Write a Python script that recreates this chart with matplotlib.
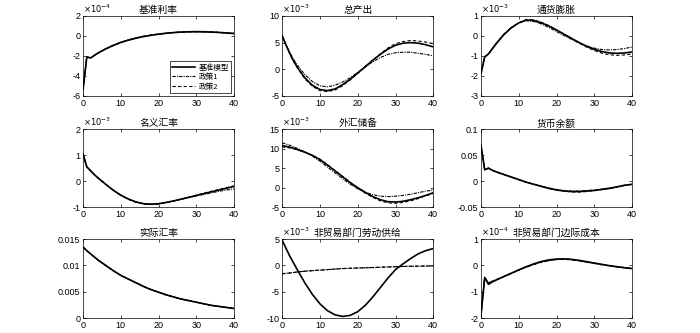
import matplotlib
matplotlib.use("Agg")
import matplotlib.pyplot as plt
from matplotlib.ticker import FuncFormatter

plt.rcParams['font.family'] = ['Liberation Sans', 'Noto Sans CJK SC', 'DejaVu Sans']

periods = [0, 1, 2, 3, 4, 6, 8, 10, 12, 14, 16, 18, 20, 22, 24, 26, 28, 30, 32, 34, 36, 38, 40]
series_names = ['基准模型', '政策1', '政策2']

titles = ['基准利率', '总产出', '通货膨胀', '名义汇率', '外汇储备', '货币余额',
          '实际汇率', '非贸易部门劳动供给', '非贸易部门边际成本']
exponents = [-4, -3, -3, -3, -3, None, None, -3, -4]
yticks = [[-6, -4, -2, 0, 2], [-5, 0, 5, 10], [-3, -2, -1, 0, 1], [-1, 0, 1, 2],
          [-5, 0, 5, 10, 15], [-0.05, 0, 0.05, 0.1], [0, 0.005, 0.01, 0.015],
          [-10, -5, 0, 5], [-2, -1, 0, 1]]
xticks = [0, 10, 20, 30, 40]

# values in displayed units (times 10^exponent where given)
rate_base = [-5.4, -2.1, -2.2, -1.95, -1.7, -1.3, -0.95, -0.65, -0.42, -0.22, -0.06, 0.07, 0.18, 0.27, 0.34, 0.39, 0.42, 0.43, 0.42, 0.39, 0.35, 0.3, 0.24]
rate_p1 = [-5.4, -2.1, -2.2, -1.93, -1.68, -1.27, -0.92, -0.62, -0.38, -0.18, -0.02, 0.1, 0.2, 0.28, 0.34, 0.38, 0.4, 0.4, 0.39, 0.37, 0.34, 0.3, 0.26]
rate_p2 = [-5.4, -2.1, -2.2, -1.96, -1.71, -1.31, -0.96, -0.66, -0.43, -0.23, -0.07, 0.07, 0.18, 0.27, 0.35, 0.4, 0.44, 0.45, 0.44, 0.41, 0.37, 0.31, 0.25]

out_base = [6.3, 4.6, 3.0, 1.6, 0.4, -1.6, -3.0, -3.8, -4.0, -3.7, -2.9, -1.9, -0.7, 0.5, 1.7, 2.8, 3.8, 4.5, 4.9, 5.0, 4.9, 4.6, 4.2]
out_p1 = [6.3, 4.7, 3.2, 1.9, 0.8, -1.0, -2.3, -3.1, -3.3, -3.0, -2.4, -1.6, -0.6, 0.4, 1.4, 2.2, 2.8, 3.1, 3.2, 3.2, 3.0, 2.8, 2.5]
out_p2 = [6.3, 4.6, 3.0, 1.5, 0.3, -1.8, -3.2, -4.0, -4.2, -3.9, -3.1, -2.0, -0.8, 0.5, 1.7, 2.9, 4.0, 4.8, 5.2, 5.4, 5.3, 5.1, 4.8]

inf_base = [-1.9, -1.05, -0.9, -0.65, -0.4, 0.05, 0.4, 0.65, 0.8, 0.78, 0.66, 0.5, 0.3, 0.09, -0.12, -0.33, -0.52, -0.67, -0.78, -0.85, -0.87, -0.85, -0.8]
inf_p1 = [-1.9, -1.05, -0.9, -0.63, -0.37, 0.08, 0.43, 0.66, 0.76, 0.72, 0.6, 0.42, 0.22, 0.02, -0.17, -0.35, -0.5, -0.61, -0.68, -0.7, -0.68, -0.63, -0.55]
inf_p2 = [-1.9, -1.05, -0.9, -0.65, -0.4, 0.05, 0.4, 0.66, 0.82, 0.8, 0.68, 0.51, 0.3, 0.08, -0.14, -0.36, -0.56, -0.73, -0.86, -0.94, -0.97, -0.95, -0.9]

ner_base = [1.05, 0.55, 0.4, 0.25, 0.12, -0.12, -0.35, -0.54, -0.69, -0.8, -0.87, -0.89, -0.87, -0.82, -0.76, -0.69, -0.62, -0.55, -0.48, -0.41, -0.34, -0.27, -0.2]
ner_p1 = [1.05, 0.55, 0.4, 0.25, 0.12, -0.12, -0.35, -0.54, -0.69, -0.8, -0.86, -0.88, -0.86, -0.82, -0.76, -0.7, -0.63, -0.57, -0.51, -0.45, -0.39, -0.34, -0.3]
ner_p2 = [1.05, 0.55, 0.4, 0.25, 0.12, -0.12, -0.35, -0.55, -0.7, -0.81, -0.88, -0.9, -0.88, -0.83, -0.77, -0.69, -0.62, -0.54, -0.46, -0.39, -0.32, -0.25, -0.18]

res_base = [10.8, 10.6, 10.4, 10.1, 9.8, 9.1, 8.3, 7.2, 5.8, 4.3, 2.8, 1.3, 0.0, -1.2, -2.3, -3.1, -3.6, -3.7, -3.5, -3.1, -2.6, -2.0, -1.3]
res_p1 = [11.5, 11.2, 10.9, 10.5, 10.1, 9.2, 8.1, 6.8, 5.3, 3.8, 2.3, 0.9, -0.3, -1.2, -1.8, -2.2, -2.3, -2.2, -2.0, -1.7, -1.3, -0.9, -0.6]
res_p2 = [10.5, 10.3, 10.2, 10.0, 9.7, 9.1, 8.3, 7.3, 5.9, 4.4, 2.9, 1.3, -0.1, -1.4, -2.5, -3.4, -3.9, -4.0, -3.8, -3.4, -2.8, -2.1, -1.5]

mon_base = [0.07, 0.022, 0.025, 0.021, 0.018, 0.013, 0.008, 0.003, -0.002, -0.006, -0.010, -0.014, -0.017, -0.019, -0.020, -0.020, -0.019, -0.018, -0.016, -0.014, -0.011, -0.008, -0.006]
mon_p1 = [0.07, 0.022, 0.025, 0.021, 0.018, 0.013, 0.008, 0.003, -0.002, -0.006, -0.010, -0.013, -0.016, -0.018, -0.019, -0.019, -0.018, -0.017, -0.015, -0.013, -0.011, -0.008, -0.006]
mon_p2 = [0.07, 0.022, 0.025, 0.021, 0.018, 0.013, 0.008, 0.003, -0.002, -0.006, -0.010, -0.014, -0.017, -0.019, -0.021, -0.021, -0.020, -0.018, -0.016, -0.014, -0.011, -0.008, -0.006]

rer_base = [0.0135, 0.0128, 0.0122, 0.0116, 0.0110, 0.0100, 0.0090, 0.0081, 0.0074, 0.0067, 0.0060, 0.0054, 0.0049, 0.0044, 0.0040, 0.0036, 0.0033, 0.0030, 0.0027, 0.0024, 0.0022, 0.0020, 0.0018]
rer_p1 = rer_base
rer_p2 = rer_base

lab_base = [4.8, 3.3, 1.8, 0.5, -0.8, -3.3, -5.5, -7.3, -8.6, -9.4, -9.7, -9.5, -8.8, -7.6, -6.0, -4.2, -2.4, -0.8, 0.3, 1.3, 2.2, 2.8, 3.2]
lab_p1 = [-1.6, -1.5, -1.45, -1.35, -1.25, -1.1, -1.0, -0.9, -0.8, -0.7, -0.6, -0.55, -0.5, -0.45, -0.4, -0.35, -0.3, -0.25, -0.2, -0.17, -0.15, -0.12, -0.1]
lab_p2 = [-1.6, -1.5, -1.45, -1.35, -1.25, -1.1, -1.0, -0.9, -0.8, -0.7, -0.6, -0.55, -0.5, -0.45, -0.4, -0.35, -0.3, -0.25, -0.2, -0.17, -0.15, -0.12, -0.1]

mc_base = [-1.93, -0.46, -0.72, -0.63, -0.56, -0.43, -0.3, -0.17, -0.05, 0.06, 0.15, 0.21, 0.24, 0.25, 0.23, 0.19, 0.14, 0.09, 0.04, -0.01, -0.05, -0.09, -0.12]
mc_p1 = [-1.93, -0.46, -0.65, -0.6, -0.54, -0.42, -0.3, -0.18, -0.07, 0.03, 0.12, 0.18, 0.22, 0.23, 0.21, 0.17, 0.12, 0.07, 0.02, -0.02, -0.06, -0.09, -0.11]
mc_p2 = [-1.93, -0.46, -0.68, -0.61, -0.55, -0.43, -0.31, -0.18, -0.06, 0.04, 0.13, 0.19, 0.23, 0.24, 0.22, 0.18, 0.13, 0.08, 0.03, -0.01, -0.05, -0.08, -0.11]

panels = [
    (rate_base, rate_p1, rate_p2), (out_base, out_p1, out_p2), (inf_base, inf_p1, inf_p2),
    (ner_base, ner_p1, ner_p2), (res_base, res_p1, res_p2), (mon_base, mon_p1, mon_p2),
    (rer_base, rer_p1, rer_p2), (lab_base, lab_p1, lab_p2), (mc_base, mc_p1, mc_p2),
]

styles = [dict(color='black', lw=1.2, ls='-'),
          dict(color='black', lw=0.8, ls=(0, (3, 1, 1, 1))),
          dict(color='black', lw=0.8, ls=(0, (3, 2)))]

fig = plt.figure(figsize=(7.0, 3.33), dpi=100)
lefts = [0.1186, 0.403, 0.687]
bottoms = [0.712, 0.378, 0.045]
heights = [0.240, 0.234, 0.237]
width = 0.216

for i, (title, data) in enumerate(zip(titles, panels)):
    r, c = divmod(i, 3)
    ax = fig.add_axes([lefts[c], bottoms[r], width, heights[r]])
    for vals, name, st in zip(data, series_names, styles):
        ax.plot(periods, vals, label=name, **st)
    ax.set_xlim(0, 40)
    yt = yticks[i]
    ax.set_ylim(yt[0], yt[-1])
    ax.set_xticks(xticks)
    ax.set_yticks(yt)
    ax.yaxis.set_major_formatter(FuncFormatter(lambda v, p: '%g' % v))
    ax.tick_params(direction='in', top=True, right=True, labelsize=6.5, length=2.5, width=0.5, pad=2)
    for s in ax.spines.values():
        s.set_linewidth(0.5)
    ax.set_title(title, fontsize=7, family=['Noto Sans CJK SC', 'DejaVu Sans'], pad=2)
    if exponents[i] is not None:
        ax.text(0.0, 1.01, r'$\times 10^{%d}$' % exponents[i], transform=ax.transAxes,
                fontsize=6, ha='left', va='bottom')
    if i == 0:
        leg = ax.legend(loc='lower right', fontsize=5.5, handlelength=3.0, fancybox=False,
                        edgecolor='black', framealpha=1, borderpad=0.3, labelspacing=0.2,
                        handletextpad=0.4, borderaxespad=0.4,
                        prop={'family': ['Noto Sans CJK SC', 'DejaVu Sans'], 'size': 5.5})
        leg.get_frame().set_linewidth(0.5)

fig.savefig('out.png', dpi=100)
